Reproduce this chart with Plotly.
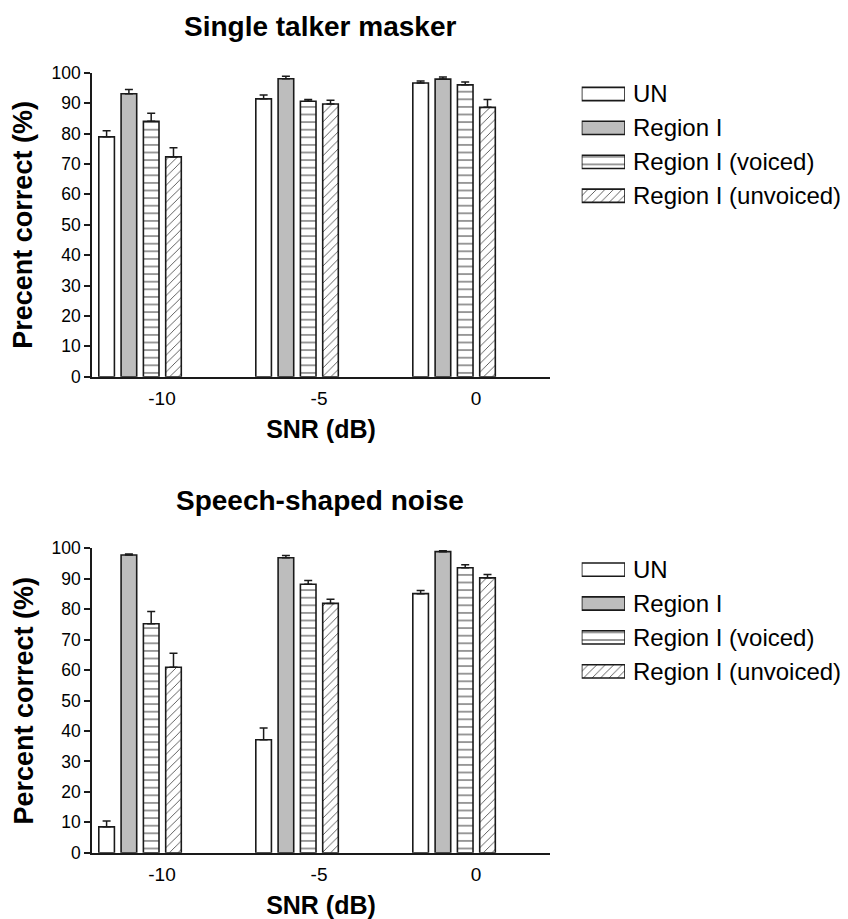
import plotly.graph_objects as go

# SNR conditions and stimulus series
snr_labels = ["-10", "-5", "0"]
series_names = ["UN", "Region I", "Region I (voiced)", "Region I (unvoiced)"]

# Single talker masker: mean percent correct and upper error (SE)
st_un = [78.9, 91.4, 96.6]
st_un_err = [2.0, 1.3, 0.7]
st_region = [93.1, 98.0, 97.9]
st_region_err = [1.4, 0.8, 0.7]
st_voiced = [84.0, 90.6, 96.0]
st_voiced_err = [2.7, 0.6, 0.9]
st_unvoiced = [72.3, 89.7, 88.6]
st_unvoiced_err = [3.0, 1.2, 2.6]

# Speech-shaped noise
ssn_un = [8.5, 37.1, 85.1]
ssn_un_err = [1.9, 3.9, 1.0]
ssn_region = [97.8, 96.9, 98.9]
ssn_region_err = [0.3, 0.7, 0.3]
ssn_voiced = [75.2, 88.2, 93.6]
ssn_voiced_err = [4.0, 1.2, 1.0]
ssn_unvoiced = [60.9, 81.9, 90.3]
ssn_unvoiced_err = [4.6, 1.4, 1.1]

W, H = 848, 919
FONT = "Liberation Sans, Arial, Helvetica, sans-serif"
INK = "#1a1a1a"

# visual style per series: (bg colour, pattern shape, pattern size)
styles = [
    ("white", "", 8),
    ("#bdbdbd", "", 8),
    ("white", "-", 7.6),
    ("white", "/", 6),
]


def px_x(p):
    return p / W


def px_y(p):
    return 1 - p / H


def marker_for(i):
    bg, shape, size = styles[i]
    m = dict(color=bg, line=dict(color=INK, width=1.6))
    if shape:
        m["pattern"] = dict(shape=shape, size=size, solidity=0.14,
                            fgcolor="#444444", bgcolor=bg, fillmode="replace")
    return m


fig = go.Figure()

groups = [0, 1, 2]
panels = [
    ("x", "y", [st_un, st_region, st_voiced, st_unvoiced],
     [st_un_err, st_region_err, st_voiced_err, st_unvoiced_err]),
    ("x2", "y2", [ssn_un, ssn_region, ssn_voiced, ssn_unvoiced],
     [ssn_un_err, ssn_region_err, ssn_voiced_err, ssn_unvoiced_err]),
]

for xa, ya, vals, errs in panels:
    for i, name in enumerate(series_names):
        fig.add_trace(go.Bar(
            x=groups, y=vals[i], name=name, xaxis=xa, yaxis=ya,
            marker=marker_for(i), showlegend=False,
            error_y=dict(type="data", symmetric=False, array=errs[i],
                         arrayminus=[0] * len(errs[i]),
                         color=INK, thickness=1.5, width=4),
        ))

# key swatches: one bar per series on small side axes
for xa, ya in [("x3", "y3"), ("x4", "y4")]:
    for i, name in enumerate(series_names):
        fig.add_trace(go.Bar(
            x=[1], y=[name], orientation="h", xaxis=xa, yaxis=ya,
            marker=marker_for(i), showlegend=False, hoverinfo="skip",
            width=0.39, offset=-0.195,
        ))

x_dom = [px_x(92), px_x(550)]
top_dom = [px_y(376.7), px_y(72.7)]
bot_dom = [px_y(852.7), px_y(548.3)]

tick_pos = [g + 0.14 for g in groups]


def xaxis_cfg(anchor):
    return dict(domain=x_dom, anchor=anchor, range=[-0.306, 2.611],
                automargin=False,
                showline=True, linecolor=INK, linewidth=1.5,
                ticks="", tickvals=tick_pos, ticktext=snr_labels,
                ticklabelstandoff=4,
                tickfont=dict(family=FONT, size=19, color="black"),
                showgrid=False, zeroline=False, fixedrange=True,
                title=dict(text="<b>SNR (dB)</b>", standoff=12,
                           font=dict(family=FONT, size=25, color="black")))


def yaxis_cfg(anchor, dom):
    return dict(domain=dom, anchor=anchor, range=[0, 100],
                automargin=False,
                showline=True, linecolor=INK, linewidth=1.5,
                ticks="outside", ticklen=6, tickwidth=1.5, tickcolor=INK,
                dtick=10, tick0=0,
                tickfont=dict(family=FONT, size=17.5, color="black"),
                showgrid=False, zeroline=False, fixedrange=True)


key_x = [px_x(581.7), px_x(625)]


def key_xaxis(anchor):
    return dict(domain=key_x, anchor=anchor, range=[0, 1], visible=False,
                automargin=False, fixedrange=True)


def key_yaxis(anchor, dom):
    return dict(domain=dom, anchor=anchor, side="right", autorange="reversed",
                type="category", categoryarray=series_names,
                automargin=False,
                showline=False, ticks="", showgrid=False, zeroline=False,
                ticklabelstandoff=7, fixedrange=True,
                tickfont=dict(family=FONT, size=24, color="black"))


def label(text, x, y, size, angle=0):
    return dict(text=text, x=x, y=y, xref="paper", yref="paper",
                xanchor="center", yanchor="middle", textangle=angle,
                showarrow=False, font=dict(family=FONT, size=size))


fig.update_layout(
    width=W, height=H,
    margin=dict(l=0, r=0, t=0, b=0, autoexpand=False),
    paper_bgcolor="white", plot_bgcolor="white",
    barmode="group", bargap=0.432, bargroupgap=0.3,
    font=dict(family=FONT, color="black"),
    xaxis=xaxis_cfg("y"),
    yaxis=yaxis_cfg("x", top_dom),
    xaxis2=xaxis_cfg("y2"),
    yaxis2=yaxis_cfg("x2", bot_dom),
    xaxis3=key_xaxis("y3"),
    yaxis3=key_yaxis("x3", [px_y(212.7), px_y(77)]),
    xaxis4=key_xaxis("y4"),
    yaxis4=key_yaxis("x4", [px_y(688.3), px_y(552.6)]),
    annotations=[
        label("<b>Single talker masker</b>", px_x(320), px_y(26), 28),
        label("<b>Speech-shaped noise</b>", px_x(320), px_y(500), 28),
        label("<b>Precent correct (%)</b>", px_x(23),
              (top_dom[0] + top_dom[1]) / 2, 27, -90),
        label("<b>Percent correct (%)</b>", px_x(23),
              (bot_dom[0] + bot_dom[1]) / 2, 27, -90),
    ],
)

fig.write_html("out.html")
